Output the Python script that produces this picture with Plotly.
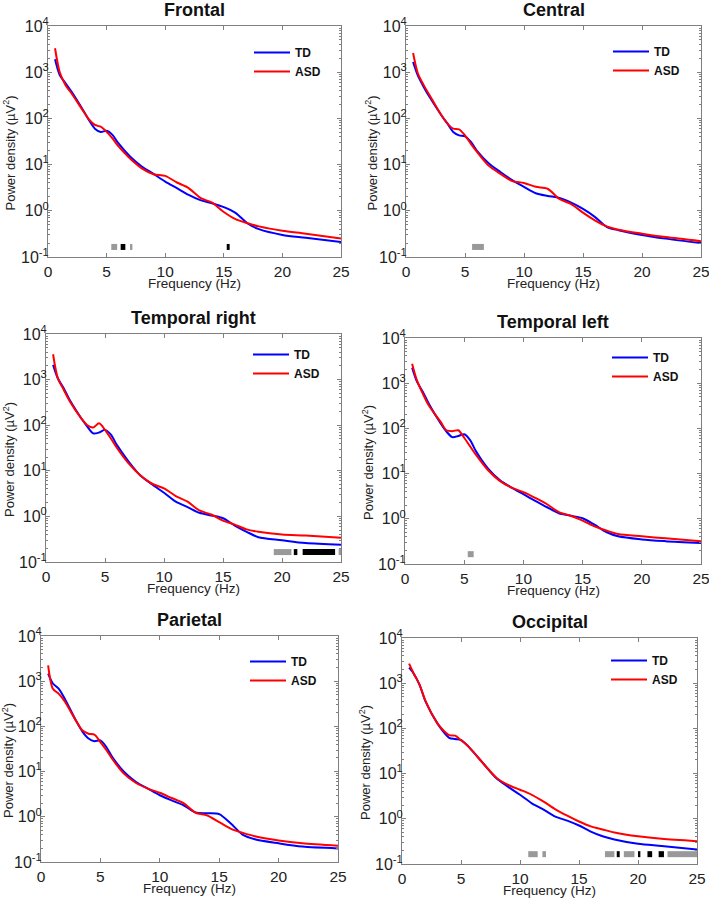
import plotly.graph_objects as go

# ---------------- data ----------------
freq = [0.6, 1, 1.5, 2, 3, 3.5, 4, 4.5, 5, 5.5, 6, 7, 8, 9, 10, 11, 12, 13, 14, 15, 16, 17, 18, 20, 22, 25]

regions = ["Frontal", "Central", "Temporal right", "Temporal left", "Parietal", "Occipital"]

frontal_td = [1900, 870, 575, 380, 150, 91, 60, 51, 54, 44, 29, 15, 9.1, 6.3, 4.3, 3.1, 2.2, 1.7, 1.46, 1.2, 0.9, 0.54, 0.40, 0.30, 0.26, 0.21]
frontal_asd = [3300, 1000, 525, 350, 145, 95, 72, 66, 51, 37, 25, 13.5, 8.3, 6.2, 5.7, 4.1, 3.1, 1.9, 1.5, 0.94, 0.66, 0.54, 0.46, 0.37, 0.32, 0.25]

central_td = [1660, 850, 480, 290, 117, 78, 51, 43, 41, 31, 20, 10.7, 6.9, 4.6, 3.3, 2.4, 2.1, 1.9, 1.5, 1.1, 0.74, 0.45, 0.38, 0.30, 0.25, 0.20]
central_asd = [2600, 950, 525, 316, 117, 78, 60, 58, 43, 28, 19, 9.5, 6.3, 4.4, 4.0, 3.3, 3.0, 1.8, 1.4, 0.91, 0.62, 0.46, 0.39, 0.32, 0.27, 0.22]

tempr_td = [2100, 1070, 650, 360, 140, 93, 66, 69, 79, 62, 37, 16, 7.9, 5.0, 3.3, 2.1, 1.6, 1.2, 1.05, 0.91, 0.63, 0.46, 0.35, 0.30, 0.26, 0.24]
tempr_asd = [3600, 1070, 600, 340, 140, 100, 89, 110, 79, 51, 32, 14.5, 7.9, 5.2, 4.1, 2.8, 2.1, 1.35, 1.1, 0.81, 0.66, 0.52, 0.46, 0.40, 0.38, 0.34]

templ_td = [2200, 1100, 650, 355, 130, 85, 64, 68, 74, 55, 31, 13, 7.2, 4.9, 3.5, 2.5, 1.8, 1.33, 1.17, 1.03, 0.74, 0.51, 0.41, 0.35, 0.32, 0.29]
templ_asd = [2700, 1170, 590, 325, 141, 91, 87, 91, 62, 40, 26, 12, 6.9, 4.9, 3.9, 2.9, 2.1, 1.41, 1.17, 0.91, 0.68, 0.55, 0.46, 0.41, 0.37, 0.32]

pariet_td = [1470, 890, 680, 410, 126, 76, 54, 47, 49, 35, 21, 9.8, 5.9, 4.2, 3.0, 2.3, 1.8, 1.25, 1.2, 1.15, 0.7, 0.40, 0.32, 0.26, 0.22, 0.20]
pariet_asd = [2250, 680, 525, 355, 126, 81, 69, 66, 45, 30, 19, 8.9, 5.6, 4.2, 3.4, 2.6, 2.0, 1.23, 1.07, 0.76, 0.54, 0.44, 0.37, 0.30, 0.26, 0.23]

occip_td = [2200, 1620, 910, 390, 129, 85, 62, 58, 55, 43, 31, 15.5, 7.9, 5.1, 3.4, 2.2, 1.6, 1.12, 0.91, 0.71, 0.52, 0.41, 0.35, 0.28, 0.25, 0.21]
occip_asd = [2700, 1620, 910, 400, 129, 91, 71, 69, 55, 43, 31, 15.5, 8.1, 5.6, 4.4, 3.4, 2.4, 1.62, 1.17, 0.87, 0.68, 0.58, 0.50, 0.41, 0.36, 0.32]

td_series = [frontal_td, central_td, tempr_td, templ_td, pariet_td, occip_td]
asd_series = [frontal_asd, central_asd, tempr_asd, templ_asd, pariet_asd, occip_asd]

# significance segments: (start Hz, end Hz, level) ; level "p05" grey, "p01" black
sig_frontal = [(5.4, 5.9, "p05"), (6.2, 6.6, "p01"), (7.0, 7.2, "p05"), (15.25, 15.5, "p01")]
sig_central = [(5.6, 6.6, "p05")]
sig_tempr = [(19.3, 20.8, "p05"), (21.0, 21.3, "p01"), (21.75, 24.5, "p01"), (24.8, 25.0, "p05")]
sig_templ = [(5.3, 5.8, "p05")]
sig_pariet = []
sig_occip = [(10.7, 11.5, "p05"), (11.9, 12.2, "p05"), (17.2, 18.0, "p05"), (18.2, 18.45, "p01"),
             (18.8, 19.7, "p05"), (20.0, 20.2, "p01"), (20.8, 21.2, "p01"), (21.75, 22.2, "p01"),
             (22.5, 25.0, "p05")]
sig_series = [sig_frontal, sig_central, sig_tempr, sig_templ, sig_pariet, sig_occip]
sig_level_y = 0.165

ytick_vals = [0.1, 1, 10, 100, 1000, 10000]
ytick_text = ["10<sup>-1</sup>", "10<sup>0</sup>", "10<sup>1</sup>", "10<sup>2</sup>", "10<sup>3</sup>", "10<sup>4</sup>"]
xtick_vals = [0, 5, 10, 15, 20, 25]

# ---------------- layout ----------------
W, H = 709, 898
# plot area boxes in page pixels: (left, right, top, bottom)
boxes = [(48, 341, 26, 257), (406, 701, 26, 257),
         (46, 341, 334, 562), (405, 701, 338, 564),
         (41, 338, 636, 862), (402, 697, 638, 864)]
# legend anchor (line left x, TD row y) in page pixels
leg_pos = [(255, 50), (614, 49), (254, 352), (613, 355), (251, 659), (612, 658)]
ytitle_shift = [-39, -35, -37, -37, -33, -37]
minor_vals = [k * 10.0 ** e for e in range(-1, 4) for k in range(2, 10)]

FONT = "Liberation Sans, Arial, Helvetica, sans-serif"
AXC = "#7f7f7f"
BLUE = "#0000ff"
RED = "#ff0000"
SIGC = {"p05": "#999999", "p01": "#000000"}

fig = go.Figure()
layout = dict(width=W, height=H, margin=dict(l=0, r=0, t=0, b=0),
              paper_bgcolor="white", plot_bgcolor="white",
              font=dict(family=FONT, size=13, color="#222222"),
              annotations=[])

for i in range(6):
    n = i + 1
    xa = "x" if n == 1 else f"x{n}"
    ya = "y" if n == 1 else f"y{n}"
    leg = "legend" if n == 1 else f"legend{n}"
    l, r, t, b = boxes[i]
    layout["xaxis" if n == 1 else f"xaxis{n}"] = dict(
        domain=[l / W, r / W], anchor=ya, range=[0, 25],
        tickvals=xtick_vals, ticks="inside", ticklen=4, tickcolor=AXC,
        showline=True, linecolor=AXC, linewidth=1, mirror="ticks",
        showgrid=False, zeroline=False, ticklabeloverflow="allow",
        tickfont=dict(size=15.5, color="#222222"),
        automargin=False)
    layout["yaxis" if n == 1 else f"yaxis{n}"] = dict(
        domain=[1 - b / H, 1 - t / H], anchor=xa, type="log", range=[-1, 4],
        tickvals=ytick_vals, ticktext=ytick_text, ticks="inside", ticklen=4, tickcolor=AXC,
        minor=dict(tickvals=minor_vals, ticks="inside", ticklen=2, tickcolor=AXC, showgrid=False),
        showline=True, linecolor=AXC, linewidth=1, mirror="ticks",
        showgrid=False, zeroline=False, ticklabelstandoff=-5, ticklabeloverflow="allow",
        tickfont=dict(size=16, color="#222222"),
        automargin=False)
    lx, ly = leg_pos[i]
    layout[leg] = dict(x=(lx - 6) / W, y=1 - (ly - 12) / H, xanchor="left", yanchor="top",
                       bgcolor="rgba(0,0,0,0)", borderwidth=0, tracegroupgap=0,
                       font=dict(family=FONT, size=12, color="#111111", weight="bold"),
                       itemwidth=36)
    layout["annotations"] += [
        dict(text=f"<b>{regions[i]}</b>", xref=f"{xa} domain", yref=f"{ya} domain",
             x=0.5, y=1, xanchor="center", yanchor="bottom", yshift=4, showarrow=False,
             font=dict(family=FONT, size=18, color="#111111")),
        dict(text="Frequency (Hz)", xref=f"{xa} domain", yref=f"{ya} domain",
             x=0.5, y=0, xanchor="center", yanchor="middle", yshift=-26, showarrow=False,
             font=dict(family=FONT, size=13.5, color="#222222")),
        dict(text="Power density (µV<sup>2</sup>)", xref=f"{xa} domain", yref=f"{ya} domain",
             x=0, y=0.5, xanchor="center", yanchor="middle", xshift=ytitle_shift[i], yshift=-12,
             textangle=-90, showarrow=False,
             font=dict(family=FONT, size=13, color="#222222")),
    ]

    fig.add_trace(go.Scatter(x=freq, y=td_series[i], mode="lines", name="TD",
                             line=dict(color=BLUE, width=2, shape="spline", smoothing=0.8),
                             xaxis=xa, yaxis=ya, legend=leg))
    fig.add_trace(go.Scatter(x=freq, y=asd_series[i], mode="lines", name="ASD",
                             line=dict(color=RED, width=2, shape="spline", smoothing=0.8),
                             xaxis=xa, yaxis=ya, legend=leg))
    for lvl in ("p05", "p01"):
        xs, ys = [], []
        for (s, e, lv) in sig_series[i]:
            if lv == lvl:
                xs += [s, e, None]
                ys += [sig_level_y, sig_level_y, None]
        if xs:
            fig.add_trace(go.Scatter(x=xs, y=ys, mode="lines", showlegend=False,
                                     line=dict(color=SIGC[lvl], width=6),
                                     xaxis=xa, yaxis=ya, hoverinfo="skip"))

fig.update_layout(**layout)
fig.write_html("out.html", config={"displayModeBar": False},
               post_script="document.body.style.margin='0';document.body.style.overflow='hidden';")
